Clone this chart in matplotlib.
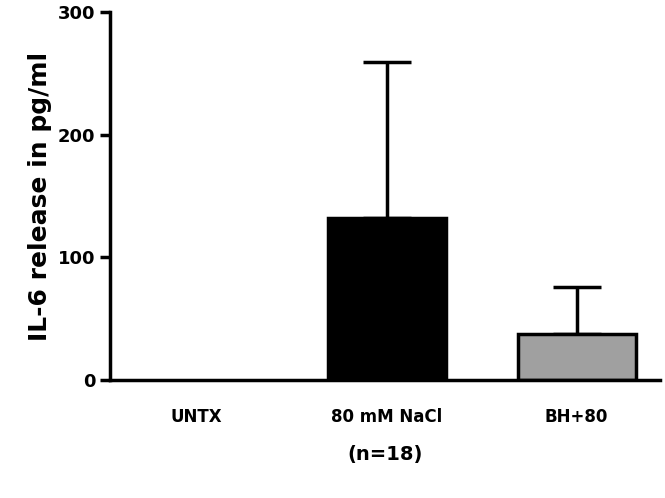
import matplotlib
matplotlib.use("Agg")
import matplotlib.pyplot as plt

categories = ["UNTX", "80 mM NaCl", "BH+80"]
means = [0, 132, 37.5]
errors = [0, 127, 38.5]
colors = ["white", "black", "#a0a0a0"]

fig = plt.figure(figsize=(6.65, 4.98), dpi=100)
ax = fig.add_axes([0.165, 0.237, 0.827, 0.739])
x = list(range(len(categories)))
ax.bar(x, means, width=0.62, color=colors, edgecolor="black",
       linewidth=[0, 2.5, 2.5], zorder=2)
ax.errorbar(x[1:], means[1:], yerr=[[0, 0], errors[1:]], fmt="none", ecolor="black",
            elinewidth=2.5, capsize=17, capthick=2.5, zorder=1)
ax.set_xlim(-0.458, 2.437)
ax.set_ylim(0, 300)
ax.set_yticks([0, 100, 200, 300])
ax.set_xticks(x)
ax.set_xticklabels(categories, fontweight="bold", fontsize=12)
for lbl in ax.get_yticklabels():
    lbl.set_fontweight("bold")
for s in ["top", "right"]:
    ax.spines[s].set_visible(False)
for s in ["left", "bottom"]:
    ax.spines[s].set_linewidth(2.5)
ax.tick_params(axis="x", length=0, pad=20)
ax.tick_params(axis="y", width=2.5, length=7, labelsize=13)
ax.set_ylabel("IL-6 release in pg/ml", fontsize=18, fontweight="bold")
ax.set_xlabel("(n=18)", fontsize=14, fontweight="bold", labelpad=14)
fig.savefig("out.png", dpi=100)
